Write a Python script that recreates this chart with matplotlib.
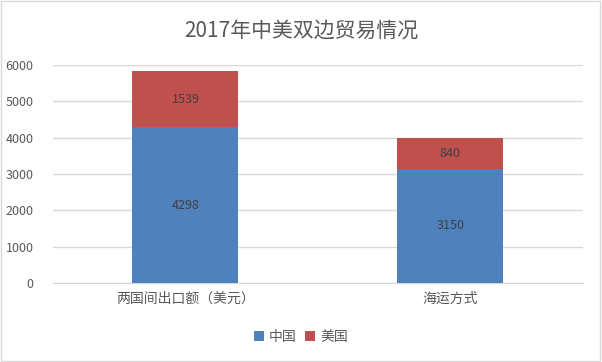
import matplotlib.pyplot as plt
from matplotlib.patches import Rectangle

plt.rcParams['font.family'] = ['Noto Sans CJK SC', 'DejaVu Sans']

# 数据
categories = ['两国间出口额（美元）', '海运方式']
china = [4298, 3150]
usa = [1539, 840]
series_names = ['中国', '美国']

blue = '#4F81BD'
red = '#C0504D'
gray = '#595959'

fig = plt.figure(figsize=(6.02, 3.62), dpi=100)
ax = fig.add_axes([0.088, 0.218, 0.880, 0.602])

x = list(range(len(categories)))
b1 = ax.bar(x, china, width=0.4, color=blue, label=series_names[0], zorder=3)
b2 = ax.bar(x, usa, width=0.4, bottom=china, color=red, label=series_names[1], zorder=3)

for bars, vals, bottoms in [(b1, china, [0] * len(china)), (b2, usa, china)]:
    for rect, v, b in zip(bars, vals, bottoms):
        ax.text(rect.get_x() + rect.get_width() / 2, b + v / 2, str(v),
                ha='center', va='center', fontsize=9, color='#404040', zorder=4)

ax.set_xlim(-0.5, 1.5)
ax.set_ylim(0, 6000)
ax.set_yticks(range(0, 6001, 1000))
ax.set_xticks(x)
ax.set_xticklabels(categories, fontsize=10, color=gray)
ax.tick_params(axis='y', labelsize=9, labelcolor=gray, length=0, pad=14)
ax.tick_params(axis='x', length=0, pad=6)
ax.grid(axis='y', color='#D9D9D9', linewidth=1, zorder=0)
for s in ['top', 'right', 'left']:
    ax.spines[s].set_visible(False)
ax.spines['bottom'].set_color('#D9D9D9')

fig.suptitle('2017年中美双边贸易情况', y=0.945, fontsize=15, color=gray)

fig.legend(loc='center', bbox_to_anchor=(0.5, 0.07), ncol=2, frameon=False,
           fontsize=10, handlelength=0.7, handleheight=0.7, handletextpad=0.4,
           columnspacing=0.6, labelcolor=gray)

fig.patches.append(Rectangle((0.002, 0.003), 0.995, 0.994, transform=fig.transFigure,
                             fill=False, edgecolor='#D9D9D9', linewidth=1))

fig.savefig('out.png', dpi=100)
